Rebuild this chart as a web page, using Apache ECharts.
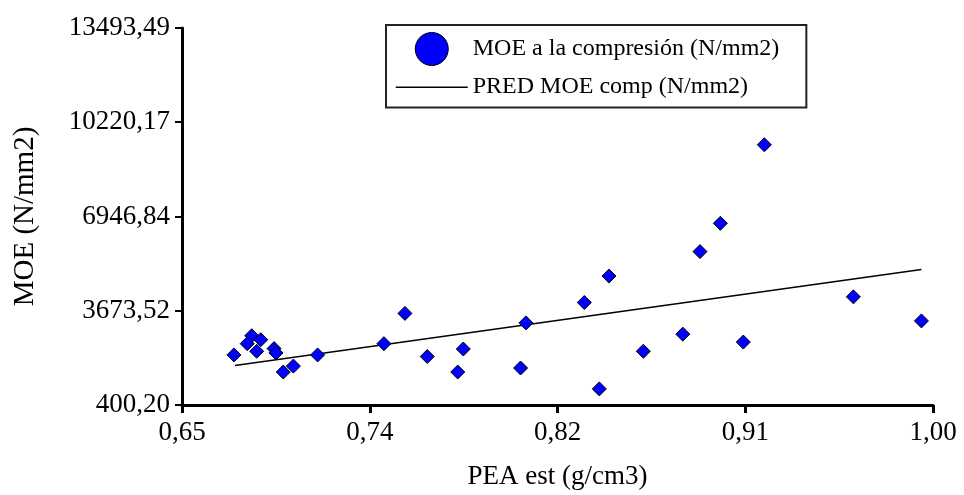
<!DOCTYPE html>
<html>
<head>
<meta charset="utf-8">
<script src="https://cdn.jsdelivr.net/npm/echarts@6/dist/echarts.min.js"></script>
<style>
  html, body { margin: 0; padding: 0; background: #ffffff; }
  #chart { width: 964px; height: 495px; }
</style>
</head>
<body>
<div id="chart"></div>
<script>
// ---- data ----
const peaX = [0.6742, 0.6804, 0.6825, 0.6867, 0.6848, 0.6929, 0.6938, 0.6972, 0.7019, 0.7132,
              0.7441, 0.7539, 0.7643, 0.7811, 0.7785, 0.8078, 0.8103, 0.8375, 0.8490, 0.8445,
              0.8650, 0.8834, 0.8914, 0.9009, 0.9214, 0.9116, 0.9629, 0.9946];
const moeY = [2139, 2531, 2806, 2668, 2266, 2359, 2208, 1545, 1751, 2139,
              2531, 3582, 2084, 2345, 1545, 1685, 3252, 3960, 4878, 960,
              2266, 2861, 5727, 6710, 9438, 2586, 4156, 3321];
const predX = [0.6747, 0.9946];
const predY = [1775, 5108];

const xTickValues = [0.65, 0.7375, 0.825, 0.9125, 1.00];
const xTickLabels = ['0,65', '0,74', '0,82', '0,91', '1,00'];
const yTickValues = [400.20, 3673.52, 6946.84, 10220.17, 13493.49];
const yTickLabels = ['400,20', '3673,52', '6946,84', '10220,17', '13493,49'];

const seriesNames = ['MOE a la compresión (N/mm2)', 'PRED MOE comp (N/mm2)'];
const xName = 'PEA est (g/cm3)';
const yName = 'MOE (N/mm2)';

// ---- build ----
const FONT = "'Liberation Serif', 'Times New Roman', serif";
function nearestLabel(v, vals, labels) {
  let best = 0;
  for (let i = 1; i < vals.length; i++) {
    if (Math.abs(vals[i] - v) < Math.abs(vals[best] - v)) best = i;
  }
  return labels[best];
}

const scatterData = peaX.map((x, i) => [x, moeY[i]]);
const lineData = predX.map((x, i) => [x, predY[i]]);

const chart = echarts.init(document.getElementById('chart'), null, { renderer: 'canvas' });
chart.setOption({
  backgroundColor: '#ffffff',
  animation: false,
  grid: { left: 182, right: 31, top: 28, bottom: 86, containLabel: false },
  legend: {
    orient: 'vertical',
    left: 386,
    top: 25,
    padding: [7, 27, 7, 9],
    itemWidth: 72,
    itemHeight: 33,
    itemGap: 8,
    borderColor: '#222',
    borderWidth: 2,
    textStyle: { fontFamily: FONT, fontSize: 24, color: '#000' },
    data: [
      { name: seriesNames[0], icon: 'circle', itemStyle: { color: '#0000ff', borderColor: '#000', borderWidth: 1, opacity: 1 } },
      { name: seriesNames[1], itemStyle: { opacity: 0 }, lineStyle: { color: '#000', width: 1.5, opacity: 1 } }
    ]
  },
  xAxis: {
    type: 'value',
    min: 0.65,
    max: 1.00,
    name: xName,
    nameLocation: 'middle',
    nameGap: 58,
    nameTextStyle: { fontFamily: FONT, fontSize: 27, color: '#000' },
    axisLine: { show: true, onZero: false, lineStyle: { color: '#000', width: 3 } },
    axisTick: { show: true, length: 8, lineStyle: { color: '#000', width: 3 }, customValues: xTickValues },
    axisLabel: {
      fontFamily: FONT, fontSize: 27, color: '#000', margin: 14,
      customValues: xTickValues,
      formatter: v => nearestLabel(v, xTickValues, xTickLabels)
    },
    splitLine: { show: false }
  },
  yAxis: {
    type: 'value',
    min: 400.20,
    max: 13493.49,
    name: yName,
    nameLocation: 'middle',
    nameGap: 142,
    nameTextStyle: { fontFamily: FONT, fontSize: 29, color: '#000' },
    axisLine: { show: true, onZero: false, lineStyle: { color: '#000', width: 3 } },
    axisTick: { show: true, length: 7, lineStyle: { color: '#000', width: 2 }, customValues: yTickValues },
    axisLabel: {
      fontFamily: FONT, fontSize: 27, color: '#000', margin: 12,
      customValues: yTickValues,
      formatter: v => nearestLabel(v, yTickValues, yTickLabels)
    },
    splitLine: { show: false }
  },
  series: [
    {
      name: seriesNames[0],
      type: 'scatter',
      symbol: 'diamond',
      symbolSize: 14,
      itemStyle: { color: '#0000ff', borderColor: '#000', borderWidth: 1, opacity: 1 },
      data: scatterData,
      z: 3
    },
    {
      name: seriesNames[1],
      type: 'line',
      symbol: 'none',
      showSymbol: false,
      lineStyle: { color: '#000', width: 1.5 },
      itemStyle: { color: '#000' },
      data: lineData,
      z: 2
    }
  ]
});
</script>
</body>
</html>
